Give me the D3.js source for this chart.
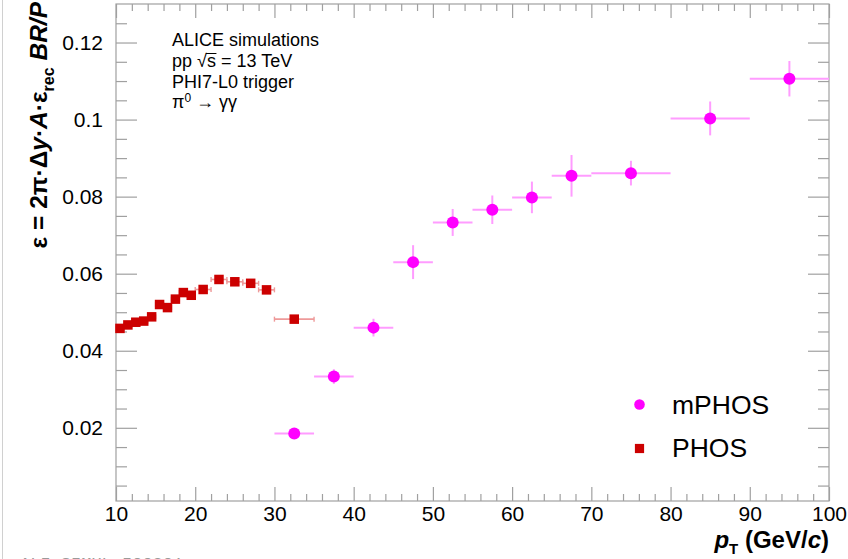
<!DOCTYPE html>
<html>
<head>
<meta charset="utf-8">
<script src="https://cdn.jsdelivr.net/npm/d3@7"></script>
<style>
  html, body { margin: 0; padding: 0; background: #fff; }
  svg { display: block; font-family: "Liberation Sans", Arial, Helvetica, sans-serif; }
</style>
</head>
<body>
<svg id="chart" width="848" height="559"></svg>
<script>
// PHOS (red squares): bin centres, half bin widths, efficiency and its uncertainty
const phosPt = [10.5, 11.5, 12.5, 13.5, 14.5, 15.5, 16.5, 17.5, 18.5, 19.5, 21, 23, 25, 27, 29, 32.5];
const phosHalfWidth = [0.5, 0.5, 0.5, 0.5, 0.5, 0.5, 0.5, 0.5, 0.5, 0.5, 1, 1, 1, 1, 1, 2.5];
const phosEff = [0.0458, 0.0467, 0.0474, 0.0477, 0.0488, 0.0520, 0.0512, 0.0534, 0.0551, 0.0544, 0.0559, 0.0585, 0.0579, 0.0575, 0.0558, 0.0482];
const phosErr = [0.0004, 0.0004, 0.0004, 0.0004, 0.0004, 0.0005, 0.0005, 0.0005, 0.0005, 0.0005, 0.0006, 0.0006, 0.0006, 0.0007, 0.0007, 0.0008];

// mPHOS (magenta circles)
const mphosPt = [32.5, 37.5, 42.5, 47.5, 52.5, 57.5, 62.5, 67.5, 75, 85, 95];
const mphosHalfWidth = [2.5, 2.5, 2.5, 2.5, 2.5, 2.5, 2.5, 2.5, 5, 5, 5];
const mphosEff = [0.0185, 0.0333, 0.0460, 0.0630, 0.0733, 0.0766, 0.0798, 0.0854, 0.0861, 0.1003, 0.1106];
const mphosErr = [0.0010, 0.0019, 0.0023, 0.0044, 0.0035, 0.0037, 0.0041, 0.0054, 0.0032, 0.0044, 0.0046];

// Axis ticks
const xMajor = [10, 20, 30, 40, 50, 60, 70, 80, 90, 100];
const xMinor = d3.range(12, 100, 2).filter(v => v % 10 !== 0);
const yMajor = [0.02, 0.04, 0.06, 0.08, 0.1, 0.12];
const yMajorLabels = ["0.02", "0.04", "0.06", "0.08", "0.1", "0.12"];
const yMinor = [0.005, 0.01, 0.015, 0.025, 0.03, 0.035, 0.045, 0.05, 0.055, 0.065, 0.07, 0.075,
                0.085, 0.09, 0.095, 0.105, 0.11, 0.115, 0.125];

const infoLines = ["ALICE simulations", "pp √s = 13 TeV", "PHI7-L0 trigger", "π0 → γγ"];
const legendNames = ["mPHOS", "PHOS"];

const svg = d3.select("#chart");
const W = 848, H = 559;
const frame = { left: 116, right: 829, top: 4, bottom: 501 };

const x = d3.scaleLinear().domain([10, 100]).range([frame.left, frame.right]);
const y = d3.scaleLinear().domain([0.001, 0.13]).range([frame.bottom, frame.top]);

svg.append("rect").attr("width", W).attr("height", H).attr("fill", "#fff");
// canvas edge
svg.append("line").attr("x1", 2.5).attr("x2", 2.5).attr("y1", 0).attr("y2", H)
  .attr("stroke", "#d0d0d0").attr("stroke-width", 1);

const axisColor = "#a0a0a0";
const tickFont = 21;
function styleAxis(g) {
  g.select(".domain").remove();
  g.selectAll(".tick line").attr("stroke", axisColor).attr("stroke-width", 1.2);
  g.selectAll(".tick text").attr("fill", "#000").style("font-size", tickFont + "px")
    .style("font-family", "'Liberation Sans', Arial, sans-serif");
}

// bottom axis
svg.append("g").attr("transform", `translate(0,${frame.bottom})`)
  .call(d3.axisBottom(x).tickValues(xMajor).tickSize(-14).tickPadding(5).tickFormat(d3.format("d")))
  .call(styleAxis);
svg.append("g").attr("transform", `translate(0,${frame.bottom})`)
  .call(d3.axisBottom(x).tickValues(xMinor).tickSize(-7).tickFormat(""))
  .call(styleAxis);
// top axis (ticks only)
svg.append("g").attr("transform", `translate(0,${frame.top})`)
  .call(d3.axisTop(x).tickValues(xMajor).tickSize(-14).tickFormat(""))
  .call(styleAxis);
svg.append("g").attr("transform", `translate(0,${frame.top})`)
  .call(d3.axisTop(x).tickValues(xMinor).tickSize(-7).tickFormat(""))
  .call(styleAxis);
// left axis
svg.append("g").attr("transform", `translate(${frame.left},0)`)
  .call(d3.axisLeft(y).tickValues(yMajor).tickSize(-21).tickPadding(13)
    .tickFormat((d, i) => yMajorLabels[i]))
  .call(styleAxis);
svg.append("g").attr("transform", `translate(${frame.left},0)`)
  .call(d3.axisLeft(y).tickValues(yMinor).tickSize(-11).tickFormat(""))
  .call(styleAxis);
// right axis (ticks only)
svg.append("g").attr("transform", `translate(${frame.right},0)`)
  .call(d3.axisRight(y).tickValues(yMajor).tickSize(-21).tickFormat(""))
  .call(styleAxis);
svg.append("g").attr("transform", `translate(${frame.right},0)`)
  .call(d3.axisRight(y).tickValues(yMinor).tickSize(-11).tickFormat(""))
  .call(styleAxis);

// frame
svg.append("rect")
  .attr("x", frame.left).attr("y", frame.top)
  .attr("width", frame.right - frame.left).attr("height", frame.bottom - frame.top)
  .attr("fill", "none").attr("stroke", axisColor).attr("stroke-width", 1.2);

// data tables
const phos = phosPt.map((pt, i) => ({ pt, hw: phosHalfWidth[i], v: phosEff[i], e: phosErr[i] }));
const mphos = mphosPt.map((pt, i) => ({ pt, hw: mphosHalfWidth[i], v: mphosEff[i], e: mphosErr[i] }));

const plot = svg.append("g");

// mPHOS error bars
const mErrColor = "#ff9cff";
plot.append("g").selectAll("line").data(mphos).join("line")
  .attr("x1", d => x(d.pt - d.hw)).attr("x2", d => x(d.pt + d.hw))
  .attr("y1", d => y(d.v)).attr("y2", d => y(d.v))
  .attr("stroke", mErrColor).attr("stroke-width", 2);
plot.append("g").selectAll("line").data(mphos).join("line")
  .attr("x1", d => x(d.pt)).attr("x2", d => x(d.pt))
  .attr("y1", d => y(d.v - d.e)).attr("y2", d => y(d.v + d.e))
  .attr("stroke", mErrColor).attr("stroke-width", 2);

// PHOS error bars with end caps
const pErrColor = "#ee9a9a";
const pErr = plot.append("g");
pErr.selectAll("line.h").data(phos).join("line").attr("class", "h")
  .attr("x1", d => x(d.pt - d.hw)).attr("x2", d => x(d.pt + d.hw))
  .attr("y1", d => y(d.v)).attr("y2", d => y(d.v))
  .attr("stroke", pErrColor).attr("stroke-width", 1.6);
pErr.selectAll("line.capl").data(phos).join("line").attr("class", "capl")
  .attr("x1", d => x(d.pt - d.hw)).attr("x2", d => x(d.pt - d.hw))
  .attr("y1", d => y(d.v) - 2.5).attr("y2", d => y(d.v) + 2.5)
  .attr("stroke", pErrColor).attr("stroke-width", 1.4);
pErr.selectAll("line.capr").data(phos).join("line").attr("class", "capr")
  .attr("x1", d => x(d.pt + d.hw)).attr("x2", d => x(d.pt + d.hw))
  .attr("y1", d => y(d.v) - 2.5).attr("y2", d => y(d.v) + 2.5)
  .attr("stroke", pErrColor).attr("stroke-width", 1.4);
pErr.selectAll("line.v").data(phos).join("line").attr("class", "v")
  .attr("x1", d => x(d.pt)).attr("x2", d => x(d.pt))
  .attr("y1", d => y(d.v - d.e)).attr("y2", d => y(d.v + d.e))
  .attr("stroke", pErrColor).attr("stroke-width", 1.6);

// markers
const sq = 9.5;
plot.append("g").selectAll("rect").data(phos).join("rect")
  .attr("x", d => x(d.pt) - sq / 2).attr("y", d => y(d.v) - sq / 2)
  .attr("width", sq).attr("height", sq).attr("fill", "#cc0000");
plot.append("g").selectAll("circle").data(mphos).join("circle")
  .attr("cx", d => x(d.pt)).attr("cy", d => y(d.v)).attr("r", 6)
  .attr("fill", "#ff00ff");

// info text
const info = svg.append("g").style("font-size", "18px").attr("fill", "#000");
const infoX = 172, infoY = [46, 67, 88, 108];
info.append("text").attr("x", infoX).attr("y", infoY[0]).text(infoLines[0]);
const l2 = info.append("text").attr("x", infoX).attr("y", infoY[1]);
l2.append("tspan").text("pp ");
l2.append("tspan").text("√");
l2.append("tspan").text("s");
l2.append("tspan").text(" = 13 TeV");
// overbar of the square root, spanning the radicand
{
  const node = l2.node();
  const rad = node.getExtentOfChar(3);
  const s = node.getExtentOfChar(4);
  const barY = rad.y + 2.5;
  info.append("line")
    .attr("x1", rad.x + rad.width - 1).attr("x2", s.x + s.width + 0.5)
    .attr("y1", barY).attr("y2", barY)
    .attr("stroke", "#000").attr("stroke-width", 1);
}
info.append("text").attr("x", infoX).attr("y", infoY[2]).text(infoLines[2]);
const l4 = info.append("text").attr("x", infoX).attr("y", infoY[3]);
l4.append("tspan").text("π");
l4.append("tspan").attr("dy", -6).style("font-size", "12px").text("0");
l4.append("tspan").attr("dy", 6).text(" → γγ");

// legend
const leg = svg.append("g");
leg.append("circle").attr("cx", 639.5).attr("cy", 404.5).attr("r", 5.3).attr("fill", "#ff00ff");
leg.append("rect").attr("x", 639.5 - 4.6).attr("y", 448.5 - 4.6).attr("width", 9.2).attr("height", 9.2).attr("fill", "#cc0000");
leg.append("text").attr("x", 672).attr("y", 413.5).style("font-size", "26.5px").text(legendNames[0]);
leg.append("text").attr("x", 672).attr("y", 457).style("font-size", "26.5px").text(legendNames[1]);

// x-axis title
const xt = svg.append("text").attr("x", frame.right).attr("y", 548)
  .attr("text-anchor", "end").style("font-size", "24px").style("font-weight", "bold");
xt.append("tspan").style("font-style", "italic").text("p");
xt.append("tspan").attr("dy", 6).style("font-size", "15px").text("T");
xt.append("tspan").attr("dy", -6).text(" (GeV/");
xt.append("tspan").style("font-style", "italic").text("c");
xt.append("tspan").text(")");

// y-axis title
const yt = svg.append("text").attr("transform", `translate(47,2) rotate(-90)`)
  .attr("text-anchor", "end").style("font-size", "24.5px").style("font-weight", "bold");
yt.append("tspan").text("ε = 2π·Δ");
yt.append("tspan").style("font-style", "italic").text("y");
yt.append("tspan").text("·");
yt.append("tspan").style("font-style", "italic").text("A");
yt.append("tspan").text("·ε");
yt.append("tspan").attr("dy", 7).style("font-size", "16px").text("rec");
yt.append("tspan").attr("dy", -7).text(" ");
yt.append("tspan").style("font-style", "italic").text("BR/P");

// archive id, cut by the bottom edge
svg.append("text").attr("x", 20).attr("y", 569)
  .style("font-family", "'Liberation Mono', 'DejaVu Sans Mono', monospace")
  .style("font-size", "17px").attr("fill", "#9a9a9a").text("ALI-SIMUL-500301");
</script>
</body>
</html>
